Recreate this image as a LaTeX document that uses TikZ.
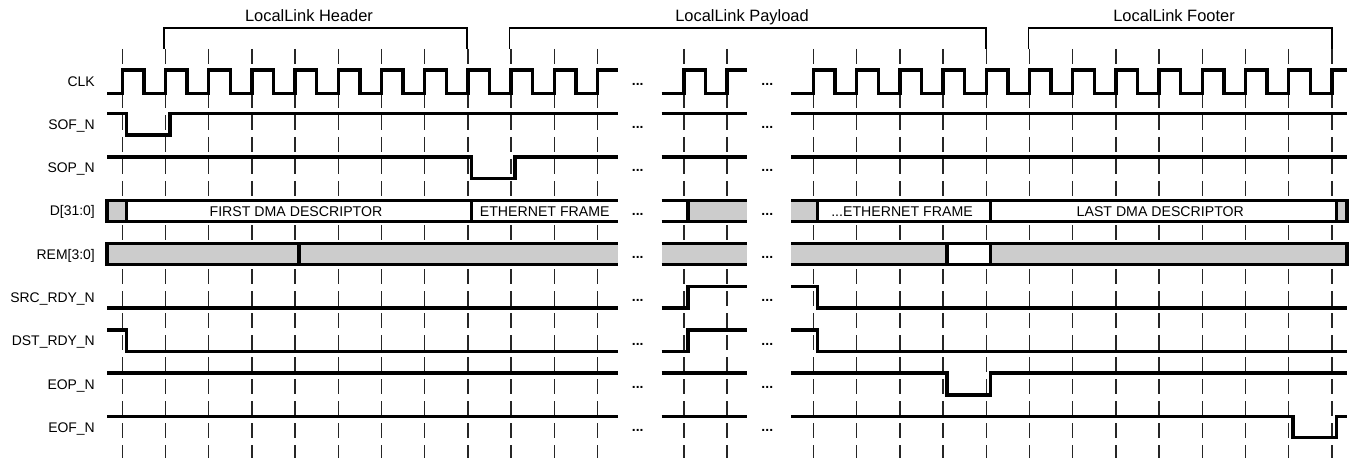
\documentclass[tikz,border=0pt]{standalone}
\usepackage{fontspec}
\setmainfont{Liberation Sans}
\begin{document}
\begin{tikzpicture}[x=1bp,y=-1bp,
  sig/.style={line width=3.5bp, line join=miter},
  busline/.style={line width=3.5bp, line join=miter},
  busfill/.style={fill=black!20},
  wfill/.style={fill=white},
  tickline/.style={line width=1.4bp, black!85, dash pattern=on 15bp off 7bp},
  brk/.style={line width=1.6bp, line join=miter},
  lbl/.style={anchor=base east, font=\fontsize{14}{16}\selectfont, inner sep=0pt},
  bustxt/.style={anchor=base, font=\fontsize{14.2}{16}\selectfont, inner sep=0pt},
  hdr/.style={anchor=base, font=\fontsize{16.5}{18}\selectfont, inner sep=0pt},
  dots/.style={anchor=base, font=\fontsize{14}{16}\selectfont\bfseries, inner sep=0pt}
]
\useasboundingbox (0,0) rectangle (1356,458);

% grid ticks
\foreach \k in {0,1,2,3,4,5,6,7,8,9,10,11,13,14,16,17,18,19,20,21,22,23,24,25,26,27,28}
  \draw[tickline] ({122.3+43.2*\k},49) -- ({122.3+43.2*\k},458);

% brackets and phase titles
\draw[brk] (164,49) -- (164,28.3) -- (467,28.3) -- (467,49);
\draw[brk] (509.5,49) -- (509.5,28.3) -- (986,28.3) -- (986,49);
\draw[brk] (1028.5,49) -- (1028.5,28.3) -- (1331.7,28.3) -- (1331.7,49);
\node[hdr] (hHeader) at (309,22) {LocalLink Header};
\node[hdr] (hPayload) at (742,22) {LocalLink Payload};
\node[hdr] (hFooter) at (1174,22) {LocalLink Footer};

% signal labels
\node[lbl] (lCLK) at (95,86.1) {CLK};
\node[lbl] (lSOF) at (95,129.4) {SOF\_N};
\node[lbl] (lSOP) at (95,172.7) {SOP\_N};
\node[lbl] (lD) at (95,216.0) {D[31:0]};
\node[lbl] (lREM) at (95,259.3) {REM[3:0]};
\node[lbl] (lSRC) at (95,302.6) {SRC\_RDY\_N};
\node[lbl] (lDST) at (95,345.9) {DST\_RDY\_N};
\node[lbl] (lEOP) at (95,389.2) {EOP\_N};
\node[lbl] (lEOF) at (95,432.5) {EOF\_N};

% ellipses between segments
\foreach \r in {0,...,8} {
  \node[dots] (dA\r) at (637.7,{85.2+43.3*\r}) {...};
  \node[dots] (dB\r) at (767.3,{85.2+43.3*\r}) {...};
}

% CLK
\draw[sig] (107,93.3) \foreach \k in {0,...,10} {-- ({122.3+43.2*\k},93.3) -- ++(0,-23.3) -- ++(21.6,0) -- ++(0,23.3)} -- (597.5,93.3) -- (597.5,70) -- (617.7,70);
\draw[sig] (661.7,93.3) -- (683.9,93.3) -- (683.9,70) -- (705.5,70) -- (705.5,93.3) -- (727.1,93.3) -- (727.1,70) -- (747,70);
\draw[sig] (791.3,93.3) \foreach \k in {16,...,27} {-- ({122.3+43.2*\k},93.3) -- ++(0,-23.3) -- ++(21.6,0) -- ++(0,23.3)} -- (1331.9,93.3) -- (1331.9,70) -- (1347,70);

% SOF_N
\draw[sig] (107,113.5) -- (126.7,113.5) -- (126.7,135) -- (169.8,135) -- (169.8,113.5) -- (617.7,113.5);
\draw[sig] (661.7,113.5) -- (747,113.5);
\draw[sig] (791.3,113.5) -- (1347,113.5);

% SOP_N
\draw[sig] (107,156.8) -- (471.3,156.8) -- (471.3,178.6) -- (515,178.6) -- (515,156.8) -- (617.7,156.8);
\draw[sig] (661.7,156.8) -- (747,156.8);
\draw[sig] (791.3,156.8) -- (1347,156.8);

% D[31:0]
\fill[busfill] (107,200.3) rectangle (126.7,221.3);
\fill[wfill] (126.7,200.3) rectangle (617.7,221.3);
\fill[wfill] (661.7,200.3) rectangle (687.9,221.3);
\fill[busfill] (687.9,200.3) rectangle (747,221.3);
\fill[busfill] (791.3,200.3) rectangle (817.5,221.3);
\fill[wfill] (817.5,200.3) rectangle (1336.5,221.3);
\fill[busfill] (1336.5,200.3) rectangle (1347,221.3);
\draw[busline] (617.7,200.3) -- (107,200.3) -- (107,221.3) -- (617.7,221.3);
\draw[busline] (126.7,200.3) -- (126.7,221.3) (471.5,200.3) -- (471.5,221.3);
\draw[busline] (661.7,200.3) -- (747,200.3) (661.7,221.3) -- (747,221.3);
\draw[busline] (687.9,200.3) -- (687.9,221.3);
\draw[busline] (791.3,200.3) -- (1347,200.3) -- (1347,221.3) -- (791.3,221.3);
\draw[busline] (817.5,200.3) -- (817.5,221.3) (990.3,200.3) -- (990.3,221.3) (1336.5,200.3) -- (1336.5,221.3);
\node[bustxt] (tFirst) at (296,216.5) {FIRST DMA DESCRIPTOR};
\node[bustxt] (tEth) at (544.7,216.5) {ETHERNET FRAME};
\node[bustxt] (tEth2) at (902,216.5) {...ETHERNET FRAME};
\node[bustxt] (tLast) at (1160.3,216.5) {LAST DMA DESCRIPTOR};

% REM[3:0]
\fill[busfill] (107,243.6) rectangle (617.7,264.6);
\fill[busfill] (661.7,243.6) rectangle (747,264.6);
\fill[busfill] (791.3,243.6) rectangle (947.1,264.6);
\fill[wfill] (947.1,243.6) rectangle (990.3,264.6);
\fill[busfill] (990.3,243.6) rectangle (1347,264.6);
\draw[busline] (617.7,243.6) -- (107,243.6) -- (107,264.6) -- (617.7,264.6);
\draw[busline] (299.1,243.6) -- (299.1,264.6);
\draw[busline] (661.7,243.6) -- (747,243.6) (661.7,264.6) -- (747,264.6);
\draw[busline] (791.3,243.6) -- (1347,243.6) -- (1347,264.6) -- (791.3,264.6);
\draw[busline] (947.1,243.6) -- (947.1,264.6) (990.3,243.6) -- (990.3,264.6);

% SRC_RDY_N
\draw[sig] (107,308.2) -- (617.7,308.2);
\draw[sig] (661.7,308.2) -- (687.9,308.2) -- (687.9,286.6) -- (747,286.6);
\draw[sig] (791.3,286.6) -- (817.5,286.6) -- (817.5,308.2) -- (1347,308.2);

% DST_RDY_N
\draw[sig] (107,329.9) -- (126.7,329.9) -- (126.7,351.6) -- (617.7,351.6);
\draw[sig] (661.7,351.6) -- (687.9,351.6) -- (687.9,329.9) -- (747,329.9);
\draw[sig] (791.3,329.9) -- (817.5,329.9) -- (817.5,351.6) -- (1347,351.6);

% EOP_N
\draw[sig] (107,373.2) -- (617.7,373.2);
\draw[sig] (661.7,373.2) -- (747,373.2);
\draw[sig] (791.3,373.2) -- (947.1,373.2) -- (947.1,394.9) -- (990.3,394.9) -- (990.3,373.2) -- (1347,373.2);

% EOF_N
\draw[sig] (107,416.5) -- (617.7,416.5);
\draw[sig] (661.7,416.5) -- (747,416.5);
\draw[sig] (791.3,416.5) -- (1293,416.5) -- (1293,437.6) -- (1336.3,437.6) -- (1336.3,416.5) -- (1347,416.5);
\end{tikzpicture}
\end{document}
